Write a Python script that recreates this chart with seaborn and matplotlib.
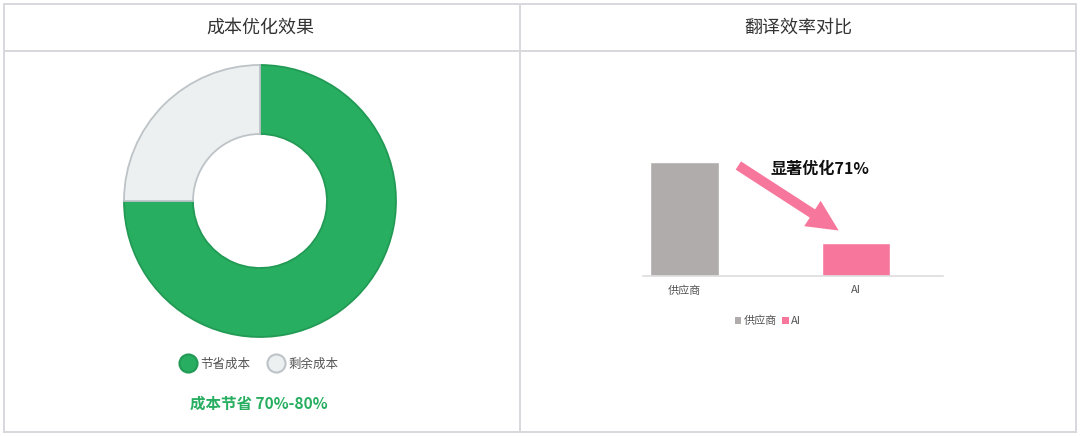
import matplotlib
matplotlib.use("Agg")
import matplotlib.pyplot as plt
import seaborn as sns
from matplotlib.lines import Line2D
from matplotlib.patches import Patch, FancyArrowPatch

sns.set_theme(style="white")
plt.rcParams['font.family'] = ['Noto Sans CJK SC', 'DejaVu Sans']

# ---- data ----
donut_labels = ["节省成本", "剩余成本"]
donut_values = [75, 25]
donut_colors = ["#27AE60", "#ECF0F1"]
donut_edges = ["#229A55", "#BDC3C7"]

bar_categories = ["供应商", "AI"]
bar_values = [100, 29]
bar_colors = ["#B0ACAB", "#F7769C"]

left_title = "成本优化效果"
right_title = "翻译效率对比"
summary_text = "成本节省 70%-80%"
annot_text = "显著优化71%"

W, H = 1080, 436
fig = plt.figure(figsize=(W / 100, H / 100), dpi=100)
fig.patch.set_facecolor("white")

def fx(x):
    return x / W

def fy(y):
    return 1 - y / H

def axes_px(x0, y0, x1, y1):
    return fig.add_axes([fx(x0), fy(y1), fx(x1) - fx(x0), fy(y0) - fy(y1)])

# ---- table borders ----
bc = "#D8D8DD"
lw = 1.4
for (x0, y0, x1, y1) in [(4, 4, 1076, 4), (4, 432, 1076, 432), (4, 4, 4, 432),
                         (1076, 4, 1076, 432), (520, 4, 520, 432), (4, 51, 1076, 51)]:
    fig.add_artist(Line2D([fx(x0), fx(x1)], [fy(y0), fy(y1)], color=bc, lw=lw,
                          transform=fig.transFigure))

fig.text(fx(260), fy(28), left_title, ha="center", va="center", fontsize=13, color="#333333")
fig.text(fx(798), fy(28), right_title, ha="center", va="center", fontsize=13, color="#333333")

# ---- donut ----
cx, cy, r = 260, 201, 136
ax1 = axes_px(cx - r, cy - r, cx + r, cy + r)
wedges, _ = ax1.pie(donut_values, colors=donut_colors, startangle=90, counterclock=False,
                    radius=1, wedgeprops=dict(width=1 - 67 / 136, linewidth=1.3))
for w, ec in zip(wedges, donut_edges):
    w.set_edgecolor(ec)
ax1.set_xlim(-1.0, 1.0)
ax1.set_ylim(-1.0, 1.0)
ax1.axis("off")

handles = [Line2D([], [], marker="o", linestyle="", markersize=13,
                  markerfacecolor=c, markeredgecolor=e, markeredgewidth=1.5)
           for c, e in zip(donut_colors, donut_edges)]
fig.legend(handles, donut_labels, loc="center", bbox_to_anchor=(fx(257), fy(364)),
           ncol=2, frameon=False, fontsize=9, labelcolor="#555555",
           handletextpad=0.0, columnspacing=1.1, handlelength=2.0)

fig.text(fx(259), fy(404), summary_text, ha="center", va="center", fontsize=11.2,
         fontweight="bold", color="#27AE60")

# ---- bar chart ----
base_y, top_y = 275.7, 162
ax2 = axes_px(643, top_y, 943, base_y)
sns.barplot(x=bar_categories, y=bar_values, hue=bar_categories, palette=bar_colors,
            legend=False, width=0.4, ax=ax2, saturation=1)
ax2.set_xlim(-0.241, 1.506)
ax2.set_ylim(0, 100)
ax2.set_facecolor("none")
for s in ["top", "right", "left"]:
    ax2.spines[s].set_visible(False)
ax2.spines["bottom"].set_color("#DDDDDD")
ax2.spines["bottom"].set_linewidth(1.2)
ax2.set_yticks([])
ax2.set_xlabel("")
ax2.set_ylabel("")
ax2.tick_params(axis="x", length=0, pad=7, labelsize=8, labelcolor="#555555")
ax2.set_xticks([0.5], minor=True)
ax2.tick_params(axis="x", which="minor", direction="in", length=3, color="#DDDDDD")

bar_handles = [Patch(facecolor=c, edgecolor="none") for c in bar_colors]
fig.legend(bar_handles, bar_categories, loc="center", bbox_to_anchor=(fx(768), fy(321)),
           ncol=2, frameon=False, fontsize=8, labelcolor="#555555",
           handlelength=0.55, handleheight=0.55, handletextpad=0.2, columnspacing=0.5)

arrow = FancyArrowPatch((fx(736), fy(164)), (fx(841), fy(232)), transform=fig.transFigure,
                        arrowstyle="simple,head_length=1.5,head_width=1.45,tail_width=0.47",
                        mutation_scale=15, color="#F7769C", lw=0)
fig.add_artist(arrow)

fig.text(fx(771), fy(169), annot_text, ha="left", va="center", fontsize=11.6,
         fontweight="bold", color="#111111")

fig.savefig("out.png", dpi=100, facecolor="white")
